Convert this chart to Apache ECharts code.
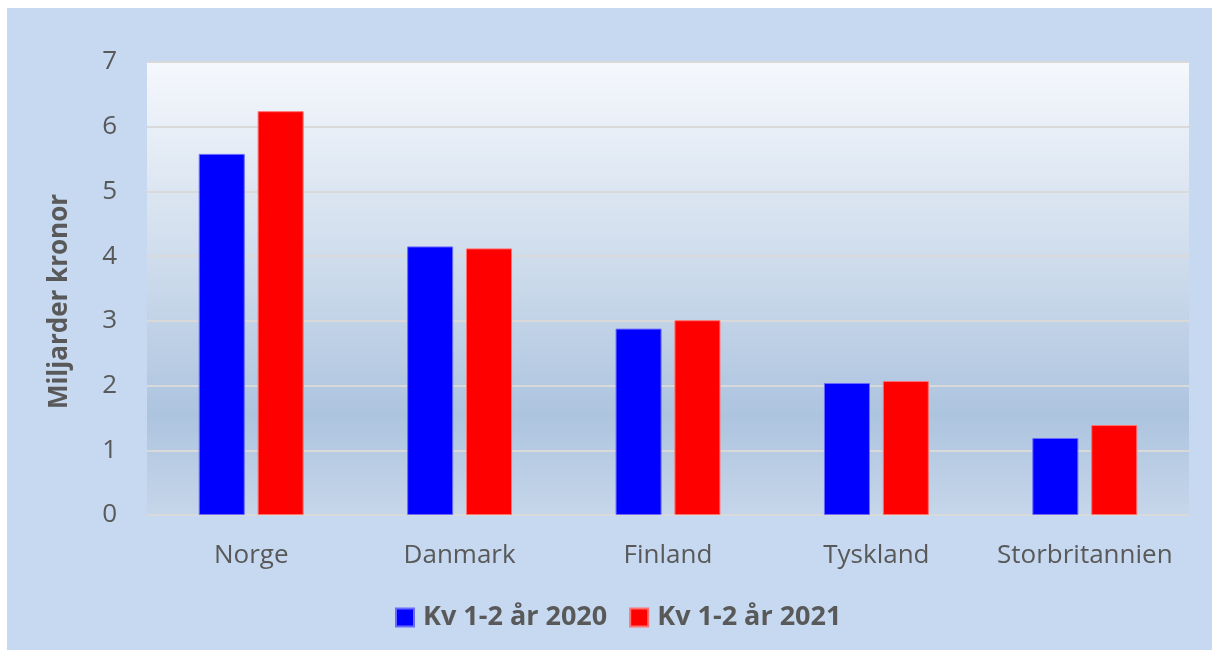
<!DOCTYPE html>
<html>
<head>
<meta charset="utf-8">
<script src="https://cdn.jsdelivr.net/npm/echarts@6/dist/echarts.min.js"></script>
<style>
html,body{margin:0;padding:0;background:#ffffff;width:1212px;height:650px;overflow:hidden;}
#main{position:absolute;left:7px;top:8px;width:1205px;height:642px;background:#c6d9f0;}
</style>
</head>
<body>
<div id="main"></div>
<script>
const categories = ['Norge', 'Danmark', 'Finland', 'Tyskland', 'Storbritannien'];
const seriesNames = ['Kv 1-2 år 2020', 'Kv 1-2 år 2021'];
const values2020 = [5.58, 4.15, 2.88, 2.04, 1.19];
const values2021 = [6.24, 4.12, 3.01, 2.07, 1.39];
const yTicks = { min: 0, max: 7, interval: 1 };

const chart = echarts.init(document.getElementById('main'), null, { renderer: 'canvas' });
const textColor = '#595959';
const font = "'Open Sans', 'Noto Sans', sans-serif";

chart.setOption({
  animation: false,
  backgroundColor: 'transparent',
  textStyle: { fontFamily: font },
  grid: {
    left: 140, top: 54, right: 23, bottom: 135,
    show: true,
    borderWidth: 0,
    backgroundColor: new echarts.graphic.LinearGradient(0, 0, 0, 1, [
      { offset: 0, color: '#f5f8fc' },
      { offset: 0.5, color: '#c9d8ea' },
      { offset: 0.78, color: '#adc4df' },
      { offset: 1, color: '#c6d6ea' }
    ])
  },
  legend: {
    bottom: 14,
    left: 383,
    itemWidth: 18,
    itemHeight: 18,
    itemGap: 22,
    icon: 'rect',
    textStyle: { color: textColor, fontSize: 27, fontWeight: 'bold', fontFamily: font, padding: [0, 0, 0, 4] },
    data: seriesNames
  },
  xAxis: {
    type: 'category',
    data: categories,
    axisLine: { show: true, lineStyle: { color: '#d9d9d9', width: 2 } },
    axisTick: { show: false },
    axisLabel: { color: textColor, fontSize: 26, margin: 28, interval: 0, fontFamily: font }
  },
  yAxis: {
    type: 'value',
    min: yTicks.min, max: yTicks.max, interval: yTicks.interval,
    name: 'Miljarder kronor',
    nameLocation: 'middle',
    nameRotate: 90,
    nameGap: 74,
    nameTextStyle: { color: textColor, fontSize: 26, fontWeight: 'bold', fontFamily: font, padding: [0, 26, 0, 0] },
    axisLine: { show: false },
    axisTick: { show: false },
    splitLine: { show: true, lineStyle: { color: '#d9d9d9', width: 2 } },
    axisLabel: { color: textColor, fontSize: 26, margin: 30, fontFamily: font }
  },
  series: [
    {
      name: seriesNames[0], type: 'bar', data: values2020,
      barWidth: 46, barGap: '28%',
      itemStyle: { color: '#0000ff', borderColor: '#6a6aff', borderWidth: 1 }
    },
    {
      name: seriesNames[1], type: 'bar', data: values2021,
      barWidth: 46, barGap: '28%',
      itemStyle: { color: '#ff0000', borderColor: '#ff7070', borderWidth: 1 }
    }
  ]
});
</script>
</body>
</html>
